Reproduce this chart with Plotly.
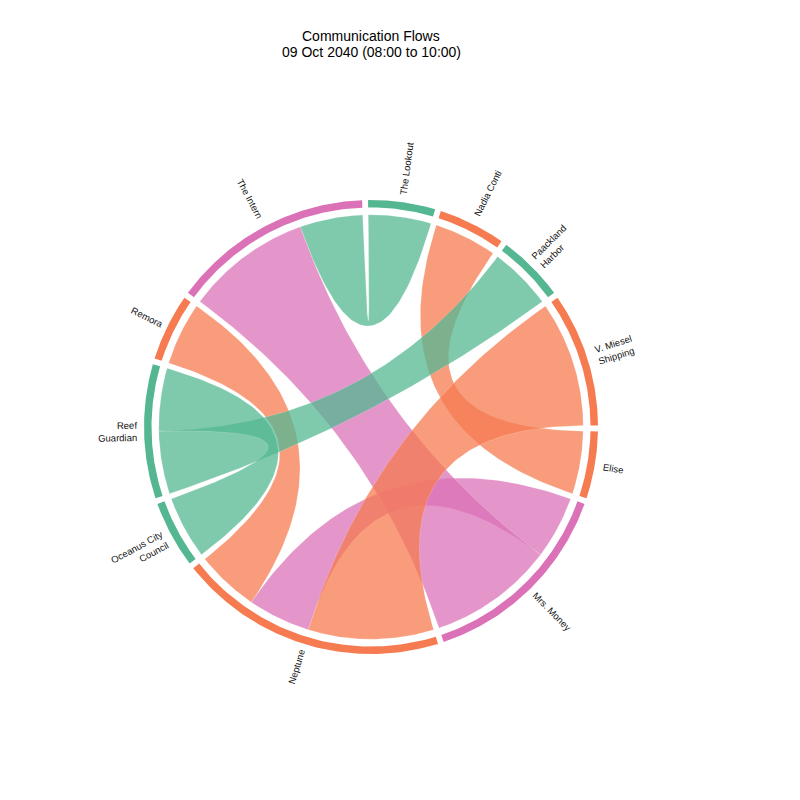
import numpy as np
import plotly.graph_objects as go

# nodes in clockwise order starting at 12 o'clock
nodes = ["The Lookout", "Nadia Conti", "Paackland Harbor", "V. Miesel Shipping", "Elise",
         "Mrs. Money", "Neptune", "Oceanus City Council", "Reef Guardian", "Remora", "The Intern"]
node_labels = ["The Lookout", "Nadia Conti", "Paackland<br>Harbor", "V. Miesel<br>Shipping", "Elise",
               "Mrs. Money", "Neptune", "Oceanus City<br>Council", "Reef<br>Guardian", "Remora", "The Intern"]
node_cluster = ["green", "orange", "green", "orange", "orange",
                "pink", "orange", "green", "green", "orange", "pink"]

# message counts between entities (order = order the slots are handed out)
link_source = ["Nadia Conti", "Paackland Harbor", "V. Miesel Shipping", "Mrs. Money",
               "The Intern", "The Lookout", "Remora", "Oceanus City Council"]
link_target = ["Elise", "Reef Guardian", "Neptune", "Neptune",
               "Mrs. Money", "The Intern", "Neptune", "Reef Guardian"]
link_count = [1, 1, 2, 1, 2, 1, 1, 1]

ring_colors = {"green": "#54b792", "orange": "#f67b50", "pink": "#db72b7"}
ribbon_colors = {"green": "rgba(84,183,146,0.75)", "orange": "rgba(246,123,80,0.75)",
                 "pink": "rgba(219,114,183,0.75)"}
draw_order = ["pink", "orange", "green"]

PAGE_OFF = 8                  # default body margin of the html page
PX = 227.0                    # pixels per unit radius
CX, CY = 371.0 - PAGE_OFF, 427.0 - PAGE_OFF   # circle centre inside the figure
PAD = np.radians(1.5)
R_OUT, R_IN, R_RIB, R_LAB = 1.0, 0.967, 0.935, 1.03
LABEL_SIZE = 9.5
FONT = "Liberation Sans, Arial, sans-serif"

# ---- chord layout
cluster_of = dict(zip(nodes, node_cluster))
totals = {n: 0 for n in nodes}
for s, t, v in zip(link_source, link_target, link_count):
    totals[s] += v
    totals[t] += v
k = (2 * np.pi - PAD * len(nodes)) / sum(totals.values())

start = {}
a = -PAD / 2
for n in nodes:
    start[n] = a
    a += totals[n] * k + PAD

cursor = dict(start)
ends = []
for s, t, v in zip(link_source, link_target, link_count):
    w = v * k
    s0 = cursor[s]
    cursor[s] += w
    t0 = cursor[t]
    cursor[t] += w
    ends.append((s0, s0 + w, t0, t0 + w))


def pt(r, ang):
    return np.array([r * np.sin(ang), r * np.cos(ang)])


def arc(r, a0, a1, n=80):
    ang = np.linspace(a0, a1, n)
    return np.column_stack([r * np.sin(ang), r * np.cos(ang)])


def curve(p0, p2, n=80):
    # quadratic bezier with the control point at the centre
    t = np.linspace(0, 1, n)[:, None]
    return (1 - t) ** 2 * p0 + t ** 2 * p2


fig = go.Figure()

# ribbons
for cl in draw_order:
    for (s, t, v), (s0, s1, t0, t1) in zip(zip(link_source, link_target, link_count), ends):
        if cluster_of[s] != cl:
            continue
        poly = np.vstack([
            arc(R_RIB, s0, s1),
            curve(pt(R_RIB, s1), pt(R_RIB, t0)),
            arc(R_RIB, t0, t1),
            curve(pt(R_RIB, t1), pt(R_RIB, s0)),
        ])
        fig.add_trace(go.Scatter(
            x=poly[:, 0], y=poly[:, 1], mode="lines", fill="toself",
            fillcolor=ribbon_colors[cl], line=dict(color="rgba(255,255,255,0.3)", width=0.6),
            hoverinfo="text", text=f"{s} - {t}: {v}", showlegend=False))

# outer ring
for n in nodes:
    a0, a1 = start[n], start[n] + totals[n] * k
    poly = np.vstack([arc(R_OUT, a0, a1), arc(R_IN, a1, a0)])
    fig.add_trace(go.Scatter(
        x=poly[:, 0], y=poly[:, 1], mode="lines", fill="toself",
        fillcolor=ring_colors[cluster_of[n]], line=dict(width=0),
        hoverinfo="text", text=n, showlegend=False))

# radial labels
annotations = []
for n, lab in zip(nodes, node_labels):
    mid = start[n] + totals[n] * k / 2
    deg = np.degrees(mid) % 360
    length = max(len(s) for s in lab.split("<br>")) * 0.52 * LABEL_SIZE / PX
    x, y = pt(R_LAB + length / 2, mid)
    if deg < 180:
        angle, align = deg - 90, "left"
    else:
        angle, align = deg - 270, "right"
    annotations.append(dict(x=x, y=y, xref="x", yref="y", text=lab, showarrow=False,
                            textangle=angle, align=align, xanchor="center", yanchor="middle",
                            font=dict(family=FONT, size=LABEL_SIZE, color="#111")))

annotations.append(dict(x=CX / 800, y=1 - (36 - PAGE_OFF) / 800, xref="paper", yref="paper",
                        text="Communication Flows", showarrow=False,
                        xanchor="center", yanchor="middle",
                        font=dict(family=FONT, size=14, color="#000")))
annotations.append(dict(x=CX / 800, y=1 - (52 - PAGE_OFF) / 800, xref="paper", yref="paper",
                        text="09 Oct 2040 (08:00 to 10:00)", showarrow=False,
                        xanchor="center", yanchor="middle",
                        font=dict(family=FONT, size=14, color="#000")))

fig.update_layout(
    width=800, height=800,
    margin=dict(l=0, r=0, t=0, b=0),
    paper_bgcolor="white", plot_bgcolor="white",
    xaxis=dict(range=[-CX / PX, (800 - CX) / PX], visible=False, fixedrange=True),
    yaxis=dict(range=[-(800 - CY) / PX, CY / PX], visible=False, fixedrange=True),
    annotations=annotations,
    showlegend=False,
)

fig.write_html("out.html")
